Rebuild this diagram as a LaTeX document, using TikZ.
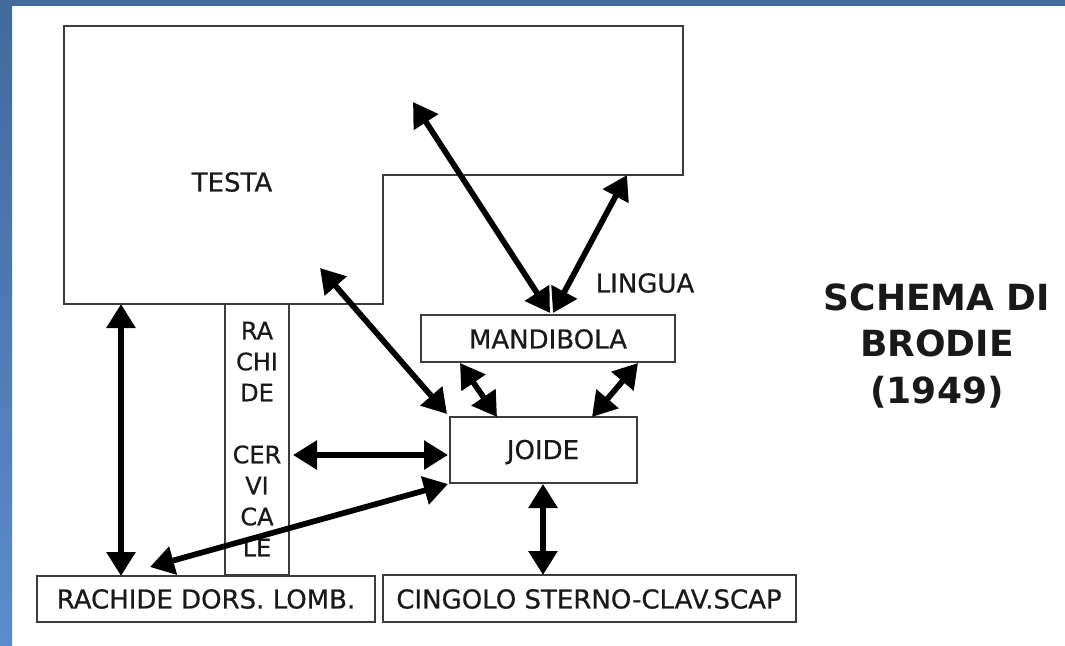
\documentclass[tikz,border=0pt]{standalone}
\usepackage{fontspec}
\setmainfont{DejaVu Sans}
\newfontfamily\lblfont[FakeBold=0.6]{DejaVu Sans}
\usetikzlibrary{arrows.meta,calc}
\definecolor{frameblue}{RGB}{65,106,157}
\definecolor{framelight}{RGB}{92,140,204}
\definecolor{ink}{RGB}{25,25,25}
\begin{document}
\begin{tikzpicture}[x=0.75pt,y=-0.75pt,
  boxline/.style={draw=ink!85,line width=1pt},
  lbl/.style={text=ink,font=\lblfont\fontsize{19.5}{23}\selectfont,inner sep=0pt},
  dbl/.style={draw=black,line width=4.3pt,
    {Triangle[length=18pt,width=21pt]}-{Triangle[length=18pt,width=21pt]}}
]
\useasboundingbox (0,0) rectangle (1065,646);
\fill[white] (0,0) rectangle (1065,646);
% blue frame
\fill[frameblue] (0,0) rectangle (1065,6);
\shade[top color=frameblue,bottom color=framelight] (0,0) rectangle (12,646);

% TESTA outline
\draw[boxline] (64,26) -- (683,26) -- (683,175) -- (383,175) -- (383,304) -- (64,304) -- cycle;
\node[lbl] (testa) at (232,182) {TESTA};
\coordinate (tL) at (121,304);
\coordinate (tM) at (320,268);
\coordinate (tU) at (413,102);
\coordinate (tR) at (627,175);

% rachide cervicale column
\draw[boxline] (225,304) rectangle (289,575);
\node[lbl,align=center,font=\lblfont\fontsize{18}{23.25}\selectfont] (rctext) at (257,439)
  {RA\\CHI\\DE\\[23.25pt]CER\\VI\\CA\\LE};
\coordinate (rcE) at (293,455);

\draw[boxline] (421,315) rectangle (675,362);
\node[lbl] (mand) at (548,339) {MANDIBOLA};
\coordinate (mN) at (550,313);
\coordinate (mSL) at (460,363);
\coordinate (mSR) at (638,363);

\draw[boxline] (450,417) rectangle (637,483);
\node[lbl] (joide) at (543,452) {JOIDE};
\coordinate (jNW) at (447,414);
\coordinate (jNL) at (497,417);
\coordinate (jNR) at (592,417);
\coordinate (jW) at (448,455);
\coordinate (jSW) at (448,484);
\coordinate (jS) at (543,484);

\draw[boxline] (37,576) rectangle (375,622);
\node[lbl] (rdl) at (206,599) {RACHIDE DORS. LOMB.};
\coordinate (rN) at (121,576);
\coordinate (rNE) at (150,567);

\draw[boxline] (383,575) rectangle (796,622);
\node[lbl] (cing) at (589,599) {CINGOLO STERNO-CLAV.SCAP};
\coordinate (cN) at (543,575);

\node[lbl,anchor=center] (lingua) at (645,283) {LINGUA};

\node[text=ink,font=\fontsize{27}{35}\selectfont\bfseries,align=center,inner sep=0pt]
  (title) at (937,346) {SCHEMA DI\\BRODIE\\(1949)};

% connectors
\draw[dbl] (tL) -- (rN);
\draw[dbl] (tM) -- (jNW);
\draw[dbl] (tU) -- (mN);
\draw[dbl] (tR) -- ($(mN)+(3,0)$);
\draw[dbl] (mSL) -- (jNL);
\draw[dbl] (mSR) -- (jNR);
\draw[dbl] (rcE) -- (jW);
\draw[dbl] (jSW) -- (rNE);
\draw[dbl] (jS) -- (cN);
\end{tikzpicture}
\end{document}
